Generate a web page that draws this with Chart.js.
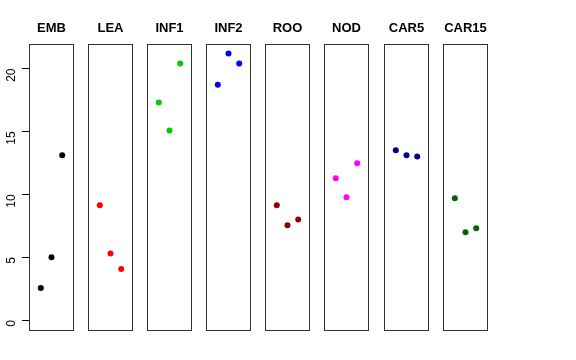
<!DOCTYPE html>
<html>
<head>
<meta charset="utf-8">
<script src="https://cdn.jsdelivr.net/npm/chart.js@4"></script>
<style>
  body { margin: 0; background: #fff; }
  #wrap { position: relative; width: 576px; height: 360px; }
  #wrap canvas { position: absolute; top: 0; }
</style>
</head>
<body>
<div id="wrap"></div>
<script>
// panel names and the three values in each panel
var groups = ['EMB', 'LEA', 'INF1', 'INF2', 'ROO', 'NOD', 'CAR5', 'CAR15'];
var EMB   = [2.54, 5.0, 13.1];
var LEA   = [9.13, 5.3, 4.05];
var INF1  = [17.3, 15.08, 20.4];
var INF2  = [18.7, 21.2, 20.4];
var ROO   = [9.13, 7.54, 8.0];
var NOD   = [11.27, 9.76, 12.46];
var CAR5  = [13.5, 13.1, 13.0];
var CAR15 = [9.68, 6.98, 7.3];
var yTicks = [0, 5, 10, 15, 20];

var values = [EMB, LEA, INF1, INF2, ROO, NOD, CAR5, CAR15];
var colors = ['#000000', '#ff0000', '#00cd00', '#0000ff', '#8b0000', '#ff00ff', '#00008b', '#006400'];
var boxLeft = [29, 88, 147, 206, 265, 324, 384, 443];
var boxW = 45;
var pad = 10;

// draws the frame round each panel
var framePlugin = {
    id: 'frame',
    afterDraw: function(chart) {
        var a = chart.chartArea, c = chart.ctx;
        c.save();
        c.strokeStyle = '#333';
        c.lineWidth = 1;
        c.strokeRect(Math.round(a.left) + 0.5, Math.round(a.top) + 0.5,
                     Math.round(a.right - a.left) - 1, Math.round(a.bottom - a.top) - 1);
        c.restore();
    }
};

var wrap = document.getElementById('wrap');
groups.forEach(function(name, i) {
    var first = i === 0;
    var left = first ? 0 : boxLeft[i] - pad;
    var width = first ? boxLeft[0] + boxW + pad : boxW + 2 * pad;
    var cv = document.createElement('canvas');
    cv.width = width;
    cv.height = 360;
    cv.style.left = left + 'px';
    cv.style.width = width + 'px';
    cv.style.height = '360px';
    wrap.appendChild(cv);

    var yScale = {
        min: -0.87,
        max: 21.98,
        display: first
    };
    if (first) {
        yScale.afterFit = function(s) { s.width = 29; };
        yScale.afterBuildTicks = function(s) { s.ticks = yTicks.map(function(v) { return {value: v}; }); };
        yScale.border = { display: false };
        yScale.grid = { drawOnChartArea: false, drawTicks: true, tickLength: 7, color: '#000' };
        yScale.ticks = {
            color: '#000',
            minRotation: 90,
            maxRotation: 90,
            padding: 10,
            font: { family: 'Liberation Sans, Arial, sans-serif', size: 12 }
        };
    }

    new Chart(cv.getContext('2d'), {
        type: 'scatter',
        data: {
            datasets: [{
                data: values[i].map(function(v, k) { return {x: k + 1, y: v}; }),
                backgroundColor: colors[i],
                borderColor: colors[i],
                pointRadius: 3,
                pointBorderWidth: 0
            }]
        },
        options: {
            responsive: false,
            animation: false,
            devicePixelRatio: 1,
            layout: { padding: { left: first ? 0 : pad, right: pad, top: 0, bottom: 29 } },
            plugins: {
                legend: { display: false },
                tooltip: { enabled: false },
                title: {
                    display: true,
                    text: name,
                    fullSize: false,
                    color: '#000',
                    font: { family: 'Liberation Sans, Arial, sans-serif', size: 13, weight: 'bold', lineHeight: 1.2 },
                    padding: { top: 21, bottom: 7 }
                }
            },
            scales: {
                x: {
                    type: 'linear',
                    min: -0.1,
                    max: 4.1,
                    display: false
                },
                y: yScale
            }
        },
        plugins: [framePlugin]
    });
});
</script>
</body>
</html>
